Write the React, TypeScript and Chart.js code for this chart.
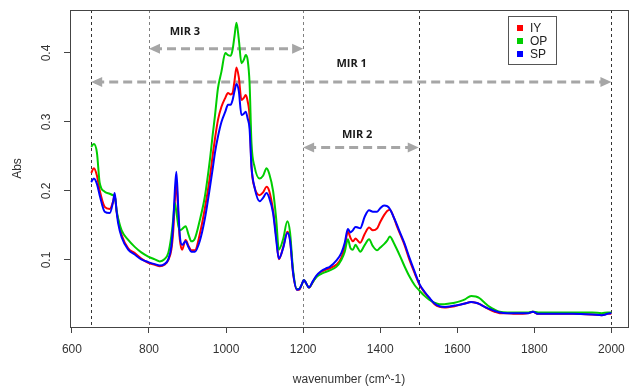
import React, { useEffect, useRef } from 'react';
import { Chart, registerables } from 'chart.js';

Chart.register(...registerables);

// wavenumber grid (cm^-1)
const wavenumbers = [
  650, 657, 665, 672, 685, 698, 707, 711, 716, 720,
  729, 746, 763, 780, 798, 815, 828, 840, 850, 858,
  863, 867, 871, 876, 880, 886, 895, 903, 910, 919,
  932, 945, 958, 966, 971, 979, 988, 998, 1005, 1012,
  1017, 1022, 1027, 1033, 1040, 1046, 1051, 1056, 1061, 1066,
  1074, 1087, 1096, 1105, 1112, 1122, 1130, 1137, 1148, 1159,
  1166, 1174, 1184, 1190, 1196, 1202, 1208, 1215, 1225, 1234,
  1247, 1260, 1269, 1286, 1299, 1308, 1316, 1323, 1329, 1336,
  1342, 1348, 1360, 1371, 1381, 1392, 1400, 1410, 1418, 1425,
  1435, 1442, 1452, 1463, 1476, 1490, 1502, 1515, 1528, 1541,
  1554, 1567, 1580, 1593, 1606, 1620, 1636, 1648, 1658, 1671,
  1684, 1697, 1710, 1730, 1750, 1770, 1785, 1796, 1810, 1850,
  1900, 1950, 1975, 1990, 2000,
];

const iy = [
  0.226, 0.233, 0.222, 0.201, 0.177, 0.174, 0.185, 0.194, 0.170, 0.158,
  0.136, 0.117, 0.110, 0.102, 0.096, 0.093, 0.091, 0.093, 0.100, 0.115,
  0.143, 0.185, 0.213, 0.165, 0.130, 0.115, 0.129, 0.120, 0.114, 0.114,
  0.138, 0.175, 0.220, 0.255, 0.275, 0.303, 0.322, 0.335, 0.342, 0.340,
  0.342, 0.360, 0.379, 0.365, 0.332, 0.335, 0.339, 0.330, 0.308, 0.235,
  0.205, 0.194, 0.198, 0.206, 0.200, 0.172, 0.135, 0.101, 0.118, 0.141,
  0.130, 0.081, 0.057, 0.057, 0.064, 0.071, 0.066, 0.060, 0.068, 0.076,
  0.083, 0.086, 0.088, 0.093, 0.103, 0.120, 0.141, 0.132, 0.127, 0.131,
  0.128, 0.125, 0.138, 0.147, 0.143, 0.146, 0.155, 0.165, 0.171, 0.173,
  0.162, 0.151, 0.137, 0.122, 0.100, 0.080, 0.064, 0.053, 0.044, 0.036,
  0.032, 0.031, 0.032, 0.033, 0.035, 0.037, 0.039, 0.038, 0.036, 0.032,
  0.028, 0.025, 0.023, 0.023, 0.022, 0.022, 0.023, 0.025, 0.022, 0.022,
  0.022, 0.021, 0.020, 0.022, 0.022,
];

const op = [
  0.264, 0.268, 0.255, 0.212, 0.199, 0.196, 0.194, 0.193, 0.172, 0.160,
  0.143, 0.129, 0.119, 0.111, 0.105, 0.101, 0.098, 0.101, 0.110, 0.135,
  0.160, 0.183, 0.170, 0.150, 0.143, 0.145, 0.149, 0.136, 0.127, 0.131,
  0.158, 0.192, 0.245, 0.285, 0.308, 0.349, 0.373, 0.400, 0.397, 0.396,
  0.405, 0.425, 0.444, 0.420, 0.385, 0.390, 0.397, 0.390, 0.356, 0.269,
  0.235, 0.218, 0.222, 0.233, 0.225, 0.200, 0.160, 0.115, 0.130, 0.156,
  0.140, 0.085, 0.058, 0.058, 0.064, 0.071, 0.066, 0.060, 0.068, 0.075,
  0.080, 0.083, 0.085, 0.090, 0.100, 0.112, 0.130, 0.117, 0.115, 0.122,
  0.117, 0.112, 0.122, 0.130, 0.120, 0.114, 0.118, 0.123, 0.128, 0.134,
  0.125, 0.117, 0.105, 0.091, 0.076, 0.063, 0.0555, 0.048, 0.042, 0.038,
  0.036, 0.036, 0.037, 0.038, 0.040, 0.043, 0.048, 0.047, 0.0445, 0.038,
  0.032, 0.028, 0.025, 0.024, 0.024, 0.024, 0.024, 0.025, 0.024, 0.024,
  0.024, 0.024, 0.023, 0.024, 0.024,
];

const sp = [
  0.213, 0.218, 0.210, 0.194, 0.170, 0.168, 0.185, 0.197, 0.170, 0.153,
  0.133, 0.115, 0.108, 0.101, 0.097, 0.094, 0.092, 0.094, 0.101, 0.120,
  0.155, 0.200, 0.228, 0.175, 0.135, 0.122, 0.127, 0.118, 0.112, 0.112,
  0.128, 0.160, 0.205, 0.235, 0.255, 0.279, 0.300, 0.315, 0.325, 0.325,
  0.332, 0.345, 0.355, 0.345, 0.310, 0.312, 0.315, 0.305, 0.290, 0.235,
  0.205, 0.185, 0.190, 0.197, 0.190, 0.168, 0.130, 0.102, 0.117, 0.139,
  0.128, 0.081, 0.057, 0.058, 0.064, 0.071, 0.066, 0.060, 0.069, 0.077,
  0.084, 0.088, 0.090, 0.099, 0.110, 0.125, 0.145, 0.140, 0.143, 0.148,
  0.147, 0.146, 0.163, 0.172, 0.170, 0.170, 0.175, 0.179, 0.178, 0.174,
  0.162, 0.153, 0.139, 0.124, 0.103, 0.082, 0.065, 0.054, 0.045, 0.037,
  0.033, 0.032, 0.0325, 0.034, 0.035, 0.037, 0.039, 0.038, 0.036, 0.032,
  0.029, 0.026, 0.024, 0.023, 0.023, 0.023, 0.023, 0.025, 0.022, 0.022,
  0.022, 0.021, 0.020, 0.022, 0.023,
];

const seriesNames = ['IY', 'OP', 'SP'];
const xTicks = [600, 800, 1000, 1200, 1400, 1600, 1800, 2000];
const yTicks = [0.1, 0.2, 0.3, 0.4];

// region boundaries (vertical dashed lines)
const regionLines = [650, 800, 1200, 1500, 2000];
// region arrows
const regionNames = ['MIR 3', 'MIR 1', 'MIR 2'];
const regionFrom = [800, 650, 1200];
const regionTo = [1200, 2000, 1500];
const regionLevel = [0.406, 0.358, 0.263];
const regionLabelX = [893, 1326, 1340];
const regionLabelLevel = [0.430, 0.384, 0.281];

const COLORS = ['#ff0000', '#00cd00', '#0000ff'];
const AXIS_FONT = '"Liberation Sans", Arial, sans-serif';

function arrowHead(ctx: CanvasRenderingContext2D, x: number, y: number, dir: number) {
  ctx.beginPath();
  ctx.moveTo(x, y);
  ctx.lineTo(x - dir * 11, y - 5);
  ctx.lineTo(x - dir * 11, y + 5);
  ctx.closePath();
  ctx.fill();
}

const decorPlugin = {
  id: 'decor',
  beforeDatasetsDraw(chart: any) {
    const { ctx, chartArea, scales } = chart;
    const xs = scales.x;
    const ys = scales.y;
    ctx.save();
    // vertical region lines
    regionLines.forEach((w, i) => {
      const px = Math.round(xs.getPixelForValue(w)) + 0.5;
      ctx.strokeStyle = i === 1 || i === 2 ? '#808080' : '#333333';
      ctx.lineWidth = 1;
      ctx.setLineDash([3, 3]);
      ctx.beginPath();
      ctx.moveTo(px, chartArea.top);
      ctx.lineTo(px, chartArea.bottom);
      ctx.stroke();
    });
    // arrows
    ctx.strokeStyle = '#a6a6a6';
    ctx.fillStyle = '#a6a6a6';
    ctx.lineWidth = 3;
    regionNames.forEach((_, i) => {
      const x1 = xs.getPixelForValue(regionFrom[i]);
      const x2 = xs.getPixelForValue(regionTo[i]);
      const y = ys.getPixelForValue(regionLevel[i]);
      ctx.setLineDash([9, 5]);
      ctx.beginPath();
      ctx.moveTo(x1 + 4, y);
      ctx.lineTo(x2 - 4, y);
      ctx.stroke();
      ctx.setLineDash([]);
      arrowHead(ctx, x1, y, -1);
      arrowHead(ctx, x2, y, 1);
    });
    // arrow labels
    ctx.fillStyle = '#1a1a1a';
    ctx.font = 'bold 11px "Open Sans", "Noto Sans", sans-serif';
    ctx.textAlign = 'center';
    ctx.textBaseline = 'middle';
    regionNames.forEach((name, i) => {
      ctx.fillText(name, xs.getPixelForValue(regionLabelX[i]), ys.getPixelForValue(regionLabelLevel[i]));
    });
    ctx.restore();
  },
  afterDraw(chart: any) {
    const { ctx, chartArea, scales } = chart;
    const ys = scales.y;
    ctx.save();
    // box
    ctx.strokeStyle = '#444444';
    ctx.lineWidth = 1;
    ctx.strokeRect(chartArea.left + 0.5, chartArea.top + 0.5, chartArea.right - chartArea.left, chartArea.bottom - chartArea.top);
    // y tick labels, rotated
    ctx.fillStyle = '#333333';
    ctx.font = '12px ' + AXIS_FONT;
    ctx.textAlign = 'center';
    ctx.textBaseline = 'middle';
    yTicks.forEach((v) => {
      const y = ys.getPixelForValue(v);
      ctx.save();
      ctx.translate(47, y);
      ctx.rotate(-Math.PI / 2);
      ctx.fillText(String(v), 0, 0);
      ctx.restore();
    });
    // axis titles
    ctx.save();
    ctx.translate(18, (chartArea.top + chartArea.bottom) / 2);
    ctx.rotate(-Math.PI / 2);
    ctx.fillText('Abs', 0, 0);
    ctx.restore();
    ctx.fillText('wavenumber (cm^-1)', (chartArea.left + chartArea.right) / 2, 380);
    // legend
    const lx = 508.5, ly = 16.5;
    ctx.strokeStyle = '#555555';
    ctx.strokeRect(lx, ly, 48, 48);
    seriesNames.forEach((name, i) => {
      const cy = 28 + i * 13;
      ctx.fillStyle = COLORS[i];
      ctx.fillRect(517, cy - 3, 6, 6);
      ctx.fillStyle = '#222222';
      ctx.textAlign = 'left';
      ctx.fillText(name, 530, cy + 0.5);
    });
    ctx.restore();
  },
};

export default function App() {
  const canvasRef = useRef<HTMLCanvasElement | null>(null);

  useEffect(() => {
    const canvas = canvasRef.current;
    if (!canvas) return;
    const seriesValues = [iy, op, sp];
    const chart = new Chart(canvas, {
      type: 'line',
      data: {
        datasets: seriesValues.map((vals, i) => ({
          label: seriesNames[i],
          data: wavenumbers.map((w, j) => ({ x: w, y: vals[j] })),
          borderColor: COLORS[i],
          backgroundColor: COLORS[i],
          borderWidth: 2,
          pointRadius: 0,
          cubicInterpolationMode: 'monotone',
          fill: false,
          order: 2 - i,
        })),
      },
      options: {
        responsive: false,
        animation: false,
        devicePixelRatio: 1,
        layout: { padding: { left: 0, right: 6, top: 10, bottom: 0 } },
        plugins: {
          legend: { display: false },
          tooltip: { enabled: false },
        },
        scales: {
          x: {
            type: 'linear',
            min: 595,
            max: 2043,
            afterBuildTicks: (scale: any) => {
              scale.ticks = xTicks.map((v) => ({ value: v }));
            },
            afterFit: (scale: any) => {
              scale.height = 60;
            },
            grid: {
              drawOnChartArea: false,
              drawTicks: true,
              tickLength: 6,
              color: '#444444',
            },
            border: { display: false },
            ticks: {
              autoSkip: false,
              maxRotation: 0,
              padding: 9,
              color: '#333333',
              font: { family: AXIS_FONT, size: 12 },
              callback: (v: any) => String(v),
            },
          },
          y: {
            type: 'linear',
            min: 0.0029,
            max: 0.4623,
            afterBuildTicks: (scale: any) => {
              scale.ticks = yTicks.map((v) => ({ value: v }));
            },
            afterFit: (scale: any) => {
              scale.width = 70;
            },
            grid: {
              drawOnChartArea: false,
              drawTicks: true,
              tickLength: 6,
              color: '#444444',
            },
            border: { display: false },
            ticks: { display: false },
          },
        },
      },
      plugins: [decorPlugin],
    });
    return () => chart.destroy();
  }, []);

  return (
    <div style={{ position: 'absolute', left: 0, top: 0, width: 634, height: 387, background: '#ffffff' }}>
      <canvas ref={canvasRef} width={634} height={387} />
    </div>
  );
}
